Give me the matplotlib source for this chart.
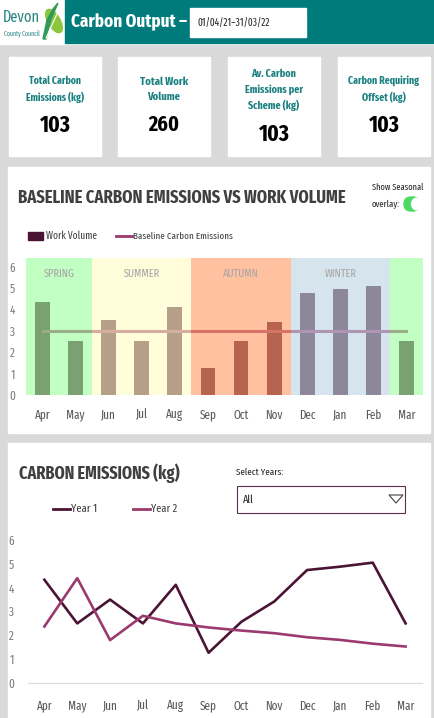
import numpy as np
import matplotlib
matplotlib.use('Agg')
import matplotlib.pyplot as plt
from matplotlib.patches import Rectangle, FancyBboxPatch, Ellipse, Polygon, Circle

plt.rcParams['font.family'] = ['Fira Sans Extra Condensed', 'DejaVu Sans']
plt.rcParams['font.stretch'] = 'condensed'

# data
months = ['Apr', 'May', 'Jun', 'Jul', 'Aug', 'Sep', 'Oct', 'Nov', 'Dec', 'Jan', 'Feb', 'Mar']
work_volume = [4.35, 2.5, 3.5, 2.5, 4.1, 1.25, 2.5, 3.4, 4.75, 4.95, 5.1, 2.5]
baseline = [3, 3, 3, 3, 3, 3, 3, 3, 3, 3, 3, 3]
month_season = ['SPRING', 'SPRING', 'SUMMER', 'SUMMER', 'SUMMER', 'AUTUMN', 'AUTUMN', 'AUTUMN',
                'WINTER', 'WINTER', 'WINTER', 'SPRING']
season_labels = ['SPRING', 'SUMMER', 'AUTUMN', 'WINTER']
season_label_pos = [0.5, 3, 6, 9]
season_colors = {'SPRING': '#9aff9a', 'SUMMER': '#fffdc2', 'AUTUMN': '#ff9961', 'WINTER': '#bbd4e2'}

year1 = [4.33, 2.5, 3.5, 2.5, 4.12, 1.27, 2.57, 3.42, 4.74, 4.88, 5.05, 2.5]
year2 = [2.37, 4.4, 1.8, 2.82, 2.5, 2.33, 2.2, 2.09, 1.92, 1.81, 1.65, 1.53]

kpi_titles = ['Total Carbon\nEmissions (kg)', 'Total Work\nVolume', 'Av. Carbon\nEmissions per\nScheme (kg)',
              'Carbon Requiring\nOffset (kg)']
kpi_values = ['103', '260', '103', '103']

W, H = 434, 718
TEAL = '#007b7b'
DARK = '#4a1535'
PINK = '#9b3a6e'
GRID = '#d9d9d9'

fig = plt.figure(figsize=(W / 100, H / 100), dpi=100)
renderer = fig.canvas.get_renderer()
bg = fig.add_axes([0, 0, 1, 1])
bg.set_xlim(0, W)
bg.set_ylim(H, 0)
bg.axis('off')


def fit(t, width):
    # scale a text so it spans the given pixel width
    bb = t.get_window_extent(renderer)
    t.set_fontsize(t.get_fontsize() * width / bb.width)
    return t


def txt(x, y, s, width, **kw):
    kw.setdefault('zorder', 3)
    kw.setdefault('va', 'center')
    kw.setdefault('ha', 'left')
    return fit(bg.text(x, y, s, fontsize=10, **kw), width)


# background + header
bg.add_patch(Rectangle((0, 0), W, H, color='#d9d9d9', zorder=0))
bg.add_patch(Rectangle((0, 0), W, 44, color='white', zorder=1))
bg.add_patch(Rectangle((65, 0), W - 65, 43, color=TEAL, zorder=2))
txt(3, 17, 'Devon', 37, color='#2a8585')
txt(4, 33, 'County Council', 36, color='#2a8585')
bg.add_patch(Ellipse((54, 21), 12, 26, angle=-30, color='#8cc63f', zorder=3))
bg.add_patch(Polygon([[43, 39], [47, 20], [53, 9], [58, 3], [51, 19], [46, 39]], closed=True,
                     color='#2e9a5a', zorder=3))
bg.plot([46, 57], [38, 14], color='white', lw=0.8, zorder=4)
txt(71, 22, 'Carbon Output \u2013', 116, color='white', fontweight='bold')
bg.add_patch(Rectangle((190, 8), 116, 29, color='white', zorder=3))
txt(197, 22.5, '01/04/21\u201331/03/22', 72, color='#222222', zorder=4)

# KPI cards
card_x = [9, 118, 228, 338]
title_w = [58, 48, 58, 71]
card_w = 92
for i in range(4):
    bg.add_patch(Rectangle((card_x[i], 57), card_w, 99, color='white', zorder=1))
    nlines = kpi_titles[i].count('\n') + 1
    cy = 89.5 if nlines == 2 else 90
    txt(card_x[i] + card_w / 2, cy, kpi_titles[i], title_w[i], color='#1a8080',
        fontweight='bold', ha='center', linespacing=1.6, zorder=2)
    ny = 125 if nlines == 2 else 134
    txt(card_x[i] + card_w / 2, ny, kpi_values[i], 31, color='black',
        fontweight='bold', ha='center', zorder=2)

# chart panels
bg.add_patch(Rectangle((8, 167), 422, 266, color='white', zorder=1))
bg.add_patch(Rectangle((8, 443), 422, 275, color='white', zorder=1))

# panel 1 texts
txt(18, 198, 'BASELINE CARBON EMISSIONS VS WORK VOLUME', 327, color='#404040', fontweight='bold')
txt(372, 187, 'Show Seasonal', 51, color='#262626')
txt(372, 204, 'overlay:', 28, color='#262626')
bg.add_patch(FancyBboxPatch((404, 197), 16, 14, boxstyle='round,pad=0,rounding_size=7',
                            color='#4cd964', zorder=2))
bg.add_patch(Circle((417.5, 204), 6, color='white', zorder=3))
bg.add_patch(Rectangle((28, 232), 15, 8, color=DARK, zorder=2))
txt(46, 236, 'Work Volume', 51, color='#404040')
bg.plot([116, 132], [236, 236], color=PINK, lw=2, zorder=2)
txt(133, 236, 'Baseline Carbon Emissions', 99, color='#404040')

# panel 2 texts
txt(19, 473, 'CARBON EMISSIONS (kg)', 161, color='#404040', fontweight='bold')
txt(236, 472, 'Select Years:', 47, color='#262626')
bg.add_patch(Rectangle((237, 486), 168, 27, facecolor='white', edgecolor='#5a3050', lw=0.8, zorder=2))
txt(243, 500, 'All', 11, color='#262626')
bg.add_patch(Polygon([[389, 495], [403, 495], [396, 503]], closed=True, facecolor='white',
                     edgecolor='#404040', lw=0.8, zorder=3))
bg.plot([53, 70], [509, 509], color=DARK, lw=2, zorder=2)
txt(71, 509, 'Year 1', 26, color='#404040')
bg.plot([133, 150], [509, 509], color=PINK, lw=2, zorder=2)
txt(151, 509, 'Year 2', 26, color='#404040')

# common sizes measured from probe texts
probe = fit(bg.text(0, 0, 'Aug', fontsize=10), 17)
tick_fs = probe.get_fontsize()
probe.remove()
probe = fit(bg.text(0, 0, 'AUTUMN', fontsize=10), 36)
season_fs = probe.get_fontsize()
probe.remove()

x = np.arange(len(months))

# chart 1: bars + baseline with seasonal overlay
ax1 = fig.add_axes([26 / W, (H - 395) / H, 397 / W, 137 / H])
ax1.bar(x, work_volume, width=0.45, color=DARK, zorder=2)
ax1.plot(x, baseline, color=PINK, lw=2.2, zorder=2.5)
ax1.bar(x, 6.4, width=1.0, color=[season_colors[s] for s in month_season], alpha=0.6,
        linewidth=0, zorder=3)
for lab, pos in zip(season_labels, season_label_pos):
    ax1.text(pos, 5.65, lab, color='#a6a6a6', fontsize=season_fs, ha='center', va='center', zorder=4)
ax1.set_xlim(-0.5, 11.5)
ax1.set_ylim(0, 6.4)
ax1.set_yticks(range(7))
ax1.set_xticks(x)
ax1.set_xticklabels(months)
for s in ax1.spines.values():
    s.set_visible(False)
ax1.tick_params(length=0, labelsize=tick_fs)
ax1.tick_params(axis='x', pad=10, colors='#595959')
ax1.tick_params(axis='y', pad=8, colors='#7f7f7f')
ax1.set_facecolor('none')

# chart 2: lines
ax2 = fig.add_axes([28 / W, (H - 683) / H, 394 / W, 143 / H])
ax2.plot(x, year1, color=DARK, lw=1.9, zorder=3)
ax2.plot(x, year2, color=PINK, lw=1.9, zorder=3)
ax2.set_xlim(-0.5, 11.5)
ax2.set_ylim(0, 6)
ax2.set_yticks(range(7))
ax2.set_xticks(x)
ax2.set_xticklabels(months)
for k, s in ax2.spines.items():
    s.set_visible(k == 'bottom')
ax2.spines['bottom'].set_color(GRID)
ax2.tick_params(length=0, labelsize=tick_fs)
ax2.tick_params(axis='x', pad=12, colors='#595959')
ax2.tick_params(axis='y', pad=10, colors='#7f7f7f')
ax2.set_facecolor('none')

fig.savefig('out.png', dpi=100)
